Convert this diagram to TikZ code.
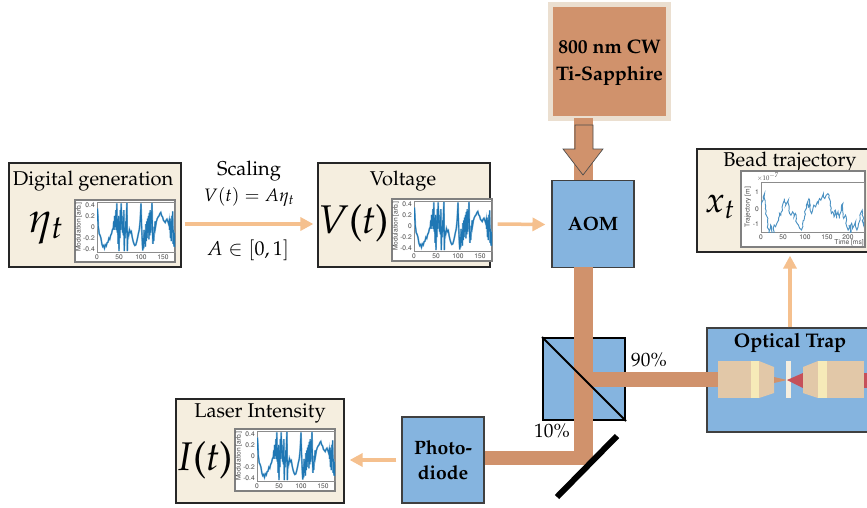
\documentclass[tikz,border=0pt]{standalone}
\usepackage[T1]{fontenc}
\usepackage{mathpazo}
\usetikzlibrary{calc,arrows.meta,decorations.pathmorphing}
\definecolor{panelbg}{HTML}{F5EEDF}
\definecolor{opticblue}{HTML}{85B4DF}
\definecolor{beamcol}{HTML}{D0926C}
\definecolor{laseredge}{HTML}{EBDFD0}
\definecolor{arrowcol}{HTML}{F5C08E}
\definecolor{lenscol}{HTML}{E2C8A8}
\definecolor{bandcol}{HTML}{F6EAB8}
\definecolor{trapred}{HTML}{C5505A}
\definecolor{sigblue}{HTML}{1F77B4}
\def\px{0.75pt}
\tikzset{
	panel/.style={draw=black!85, fill=panelbg, line width=0.9pt, inner sep=0pt},
	optic/.style={draw=black!75, fill=opticblue, line width=0.8pt, inner sep=0pt, align=center, font=\bfseries\fontsize{14.5}{19}\selectfont},
	flow/.style={arrowcol, line width=3.5*\px, -{Triangle[length=13*\px, width=13*\px]}},
	beam/.style={beamcol, line width=14.5*\px, line join=miter},
	ticktxt/.style={font=\fontfamily{phv}\selectfont\fontsize{5}{6}\selectfont, text=black!70, inner sep=0pt},
	bigmath/.style={font=\fontsize{32}{34}\selectfont, inner sep=0pt},
	bigtext/.style={font=\fontsize{30}{32}\selectfont, inner sep=0pt},
	boxtitle/.style={font=\fontsize{15}{17}\selectfont, inner sep=0pt},
	plaintxt/.style={font=\fontsize{14.5}{17}\selectfont, inner sep=0pt},
}
\def\modsignal{(0,-.1)(1,-.33)(2,-.2)(3,0)(4,.05)(5,.12)(7,.15)(9,.2)(11,.3)(13,.35)(15,.33)(17,.38)(19,.32)(21,.34)(23,.28)(25,.27)(27,.2)(29,.22)(31,.15)(33,.12)(35,.05)(37,.02)(38,-.1)(39,.05)(40,-.2)(41,0)(42,-.1)(43,-.3)(44,.05)(45,-.42)(46,.1)(47,-.15)(48,.3)(49,-.2)(50,.43)(51,-.1)(52,.2)(53,-.3)(54,.05)(55,-.42)(56,-.05)(57,-.2)(58,.1)(59,-.1)(60,.15)(61,-.3)(62,.43)(63,.05)(64,.2)(65,-.1)(66,.1)(67,-.25)(68,-.43)(69,.43)(70,.1)(72,.15)(74,.05)(76,.1)(78,.08)(80,.18)(82,.25)(84,.3)(86,.33)(88,.32)(90,.27)(92,.2)(94,.12)(96,.05)(98,-.1)(99,-.25)(100,-.42)(101,-.1)(102,.1)(103,.3)(104,.42)(105,.2)(106,.38)(107,.05)(108,.3)(109,.1)(110,.35)(111,-.05)(112,.25)(113,-.1)(114,.2)(115,-.15)(116,.1)(117,-.2)(118,.22)(119,-.25)(120,.15)(121,-.3)(122,.1)(123,-.1)(124,-.2)(125,-.43)(126,.05)(127,.3)(128,.1)(129,.25)(130,0)(131,.1)(132,-.1)(133,0)(135,-.1)(137,-.15)(139,-.18)(141,-.2)(143,-.24)(145,-.26)(147,-.2)(149,-.18)(151,-.12)(153,-.1)(155,-.08)(157,-.12)(159,-.14)(161,-.1)(163,-.05)(164,-.1)(165,.05)(166,-.15)(167,.2)(168,-.1)(169,.25)(170,-.2)(171,.1)(172,-.28)(173,.3)(174,.05)(175,.35)(176,.1)(177,.36)(178,.3)}
\def\trajsignal{(0,-.2)(5,-.7)(8,-.9)(10,0)(12,.4)(15,.8)(18,1.5)(22,1)(25,1.5)(28,1.6)(30,1)(33,1.1)(36,.9)(40,.7)(42,.3)(45,.4)(48,-.1)(50,-.3)(53,-.6)(56,-.2)(60,-.4)(62,-.5)(65,.3)(68,.4)(72,.2)(75,.5)(78,.3)(82,.9)(85,1)(88,1.2)(92,1.3)(95,1.1)(98,.7)(100,.3)(103,-.2)(106,-.4)(108,-.1)(110,-.6)(112,-.2)(115,.3)(118,0)(120,-.2)(124,-.1)(128,-.4)(130,-.3)(133,-.6)(136,-.5)(139,-.7)(142,-.9)(145,-.6)(148,-.8)(152,-.9)(155,-.8)(158,-.4)(160,.3)(163,.2)(166,.5)(169,.1)(172,.6)(175,.2)(178,.6)(180,.3)(183,-.2)(186,-.3)(188,.6)(192,.4)(195,1.1)(198,1.3)(200,1)(203,1.5)(206,.9)(208,1.2)(212,1)(215,.8)(218,1.3)(222,.9)(226,.3)(230,.1)(233,1)(235,.7)}
\def\modplot(#1,#2){
	\begin{scope}[shift={(#1,#2)}]
		\draw[black!50, fill=white, line width=0.8pt] (0,0) rectangle (100,62);
		\draw[black!45, line width=0.4pt] (22,2) rectangle (100,52);
		\begin{scope}
			\clip (22,2) rectangle (100,52);
			\begin{scope}[shift={(22,27)}, x=0.33pt, y=-42pt]
				\draw[sigblue!55, line width=1.3pt] plot coordinates {\modsignal};
				\draw[sigblue, line width=0.7pt] plot coordinates {\modsignal};
			\end{scope}
		\end{scope}
		\foreach \t/\tx in {0/22,50/44,100/66,150/88} {
			\node[ticktxt] (xtick\t) at (\tx,57) {\t};
		}
		\foreach \v/\vy in {0.4/5,0.2/16,0/27,-0.2/38,-0.4/49} {
			\node[ticktxt, anchor=east] (ytick\v) at (20,\vy) {\v};
		}
		\node[ticktxt, rotate=90] (ylab) at (4,27) {Modulation [arb.]};
	\end{scope}
}

\begin{document}
\begin{tikzpicture}[x=0.75pt, y=-0.75pt]
	%%%%% START %%%%%
	\useasboundingbox (0,0) rectangle (867,507);
	\clip (0,0) rectangle (867,507);
	
	% laser and beam
	\coordinate (beamtop) at (583.5,118);
	\coordinate (split) at (583.5,379.5);
	\coordinate (fold) at (583.5,458);
	\coordinate (lensin) at (718,379.5);
	
	\node[fill=beamcol, draw=laseredge, line width=5*\px, minimum width=118*\px, minimum height=114*\px, inner sep=0pt] (laser) at (609.5,61.5) {};
	\node[inner sep=0pt, align=center, font=\bfseries\fontsize{14.7}{20.3}\selectfont] (lasertxt) at (609.5,63) {800 nm CW\\Ti-Sapphire};
	\draw[beamcol, line width=19.5*\px] (beamtop) -- (583.5,270);
	\draw[fill=beamcol, draw=black!70, line width=0.5pt] (575,125) -- (593,125) -- (593,149) -- (603,149) -- (583,175) -- (563,149) -- (575,149) -- cycle;
	
	\node[optic, minimum width=82*\px, minimum height=87*\px] (aom) at (593,224) {AOM};
	
	% beam splitter
	\node[draw=black, fill=opticblue, line width=1.5pt, minimum width=82*\px, minimum height=82*\px, inner sep=0pt] (cube) at (584,379) {};
	
	% trap
	\node[optic, minimum width=190*\px, minimum height=104*\px] (trap) at (802,380) {};
	\node[font=\bfseries\fontsize{14.8}{17}\selectfont, inner sep=0pt] (traptitle) at (790,343) {Optical Trap};
	
	\draw[fill=lenscol, draw=none] (718,361) rectangle (751,398);
	\draw[fill=bandcol, draw=none] (751,361) rectangle (759,398);
	\draw[fill=lenscol, draw=none] (759,361) -- (774,367) -- (774,393) -- (759,398) -- cycle;
	\draw[fill=beamcol, draw=none] (774,377) -- (787,380) -- (774,383) -- cycle;
	\draw[fill=panelbg, draw=none] (786,361) rectangle (791,398);
	\draw[fill=trapred, draw=none] (787,380) -- (803,373) -- (803,388) -- cycle;
	\draw[fill=lenscol, draw=none] (803,367) -- (818,361) -- (818,398) -- (803,393) -- cycle;
	\draw[fill=bandcol, draw=none] (818,361) rectangle (827,398);
	\draw[fill=lenscol, draw=none] (827,361) rectangle (864,398);
	\draw[fill=trapred, draw=none] (864,373) rectangle (867,388);
	
	% beams after the modulator
	\draw[beamcol, line width=19.5*\px] (583.5,267) -- (fold);
	\draw[beam] (split) -- (lensin);
	\draw[beam] (583.5,458) -- (480,458);
	\draw[beamcol, line width=19.5*\px] (fold) -- (583.5,465);
	\draw[black, line width=1.5pt] (cube.north west) -- (cube.south east);
	
	\coordinate (mirrora) at (617,436);
	\coordinate (mirrorb) at (557,497);
	\draw[black, line width=6*\px] (mirrora) -- (mirrorb);
	
	\node[optic, minimum width=82*\px, minimum height=86*\px] (diode) at (443,460) {Photo-\\diode};
	
	\node[plaintxt] (pct90) at (649,360) {90\%};
	\node[plaintxt] (pct10) at (552,431) {10\%};
	
	% digital generation
	\node[panel, minimum width=172*\px, minimum height=104*\px] (digital) at (95,215) {};
	\node[boxtitle] (digitaltitle) at (93,181) {Digital generation};
	\node[bigmath] (etasym) at (46,228) {$\eta_t$};
	\modplot(75,200)
	
	% voltage
	\node[panel, minimum width=172*\px, minimum height=104*\px] (voltage) at (404,215) {};
	\node[boxtitle] (voltagetitle) at (403,181) {Voltage};
	\node[bigtext] (vsym) at (354,223) {\textit{V}(\textit{t})};
	\modplot(392,199)
	
	% laser intensity
	\node[panel, minimum width=168*\px, minimum height=104*\px] (intensity) at (260,451) {};
	\node[boxtitle] (intensitytitle) at (260,413) {Laser Intensity};
	\node[bigtext] (isym) at (206,460) {\textit{I}(\textit{t})};
	\modplot(235,429)
	
	% bead trajectory
	\node[panel, minimum width=190*\px, minimum height=103*\px] (bead) at (792,200.5) {};
	\node[boxtitle] (beadtitle) at (790,162) {Bead trajectory};
	\node[bigmath, font=\fontsize{27}{30}\selectfont] (xsym) at (720,207) {$x_t$};
	\draw[black!50, fill=white, line width=0.8pt] (741,171) rectangle (865,247);
	\draw[black!45, line width=0.4pt] (761,182) rectangle (864,232);
	\begin{scope}
		\clip (761,182) rectangle (864,232);
		\begin{scope}[shift={(761,208.5)}, x=0.33pt, y=-12.4pt]
			\draw[sigblue!80, line width=0.7pt, decorate, decoration={random steps, segment length=2pt, amplitude=0.7pt}] plot coordinates {\trajsignal};
		\end{scope}
	\end{scope}
	\foreach \t/\tx in {0/761,50/783,100/805,150/827,200/848} {
		\node[ticktxt] (beadx\t) at (\tx,237) {\t};
	}
	\foreach \v/\vy in {1/192,0/209,-1/224} {
		\node[ticktxt, anchor=east] (beady\v) at (759,\vy) {\v};
	}
	\node[ticktxt] (beadexp) at (768,177) {$\times 10^{-7}$};
	\node[ticktxt, rotate=90] (beadylab) at (748,207) {Trajectory [m]};
	\node[ticktxt, anchor=east] (beadxlab) at (864,243) {Time [ms]};
	
	% scaling text
	\node[plaintxt, font=\fontsize{15}{17}\selectfont] (scaling) at (249,171) {Scaling};
	\node[plaintxt, font=\fontsize{13.5}{17}\selectfont] (scaleeq) at (249,197) {$V(t) = A\eta_t$};
	\node[plaintxt, font=\fontsize{15}{17}\selectfont] (scalerange) at (248,250) {$A \in [0,1]$};
	
	% connectors
	\draw[flow] ($(digital.east)+(3,9)$) -- ($(voltage.west)+(-4,9)$);
	\draw[flow] ($(voltage.east)+(7,9)$) -- ($(aom.west)+(-6,0.5)$);
	\draw[flow] (trap.north -| traptitle) -- ($(bead.south -| traptitle)+(0,3)$);
	\draw[flow] (diode.west) ++(-5,0) -- ($(intensity.east)+(5,9)$);
	
	%%%%% END %%%%%
\end{tikzpicture}
\end{document}
